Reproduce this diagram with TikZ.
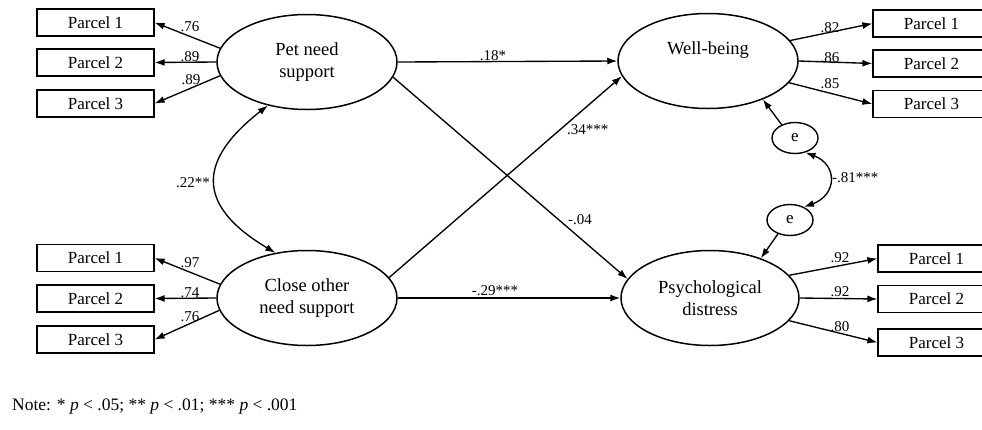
\documentclass[tikz,border=0pt]{standalone}
\usepackage{fontspec}
\setmainfont{Liberation Serif}
\usetikzlibrary{shapes.geometric,arrows.meta}
\tikzset{
  parcel/.style={draw, line width=1.2pt, minimum width=117pt, minimum height=27pt, inner sep=0pt, font=\fontsize{17}{20}\selectfont},
  latent/.style={ellipse, draw, line width=1.5pt, minimum width=180pt, minimum height=95pt, inner sep=0pt, align=center, font=\fontsize{18.5}{22}\selectfont},
  errvar/.style={ellipse, draw, line width=1.4pt, minimum width=46pt, minimum height=31pt, inner sep=0pt, font=\fontsize{17}{20}\selectfont},
  path/.style={-{Latex[length=10pt,width=7pt]}, line width=1.35pt},
  cov/.style={{Latex[length=10pt,width=7pt]}-{Latex[length=10pt,width=7pt]}, line width=1.35pt},
  coef/.style={inner sep=0pt, font=\fontsize{15}{17}\selectfont},
}
\begin{document}
\begin{tikzpicture}[x=1pt,y=-1pt]
\useasboundingbox (0,0) rectangle (982,429);
\clip (0,0) rectangle (982,429);
\fill[white] (0,0) rectangle (982,429);

% latent variables
\node[latent] (pet) at (307,62) {Pet need\\support};
\node[latent] (close) at (307,298) {Close other\\need support};
\node[latent] (wb) at (708,61) {Well-being\\[4pt]\mbox{}};
\node[latent, minimum width=178pt] (psy) at (710,298) {Psychological\\distress};

% error terms
\node[errvar] (e1) at (795,138) {e};
\node[errvar] (e2) at (790,220) {e};

% parcels
\node[parcel] (lp1) at (95.5,22.5) {Parcel 1};
\node[parcel] (lp2) at (95.5,62.5) {Parcel 2};
\node[parcel] (lp3) at (95.5,103.5) {Parcel 3};
\node[parcel] (lc1) at (95.5,258) {Parcel 1};
\node[parcel] (lc2) at (95.5,298.5) {Parcel 2};
\node[parcel] (lc3) at (95.5,339.5) {Parcel 3};
\node[parcel] (rw1) at (931.5,23.5) {Parcel 1};
\node[parcel] (rw2) at (931.5,63.5) {Parcel 2};
\node[parcel] (rw3) at (931.5,104) {Parcel 3};
\node[parcel] (rp1) at (936.5,258.5) {Parcel 1};
\node[parcel] (rp2) at (936.5,299) {Parcel 2};
\node[parcel] (rp3) at (936.5,342.5) {Parcel 3};

% loadings
\draw[path] (pet.171) -- (lp1.east);
\draw[path] (pet.west) -- (lp2.east);
\draw[path] (pet.189) -- (lp3.east);
\draw[path] (close.171) -- (lc1.east);
\draw[path] (close.west) -- (lc2.east);
\draw[path] (close.188) -- (lc3.east);
\draw[path] (wb.14) -- (rw1.west);
\draw[path] (wb.east) -- (rw2.west);
\draw[path] (wb.345) -- (rw3.west);
\draw[path] (psy.16) -- (rp1.west);
\draw[path] (psy.east) -- (rp2.west);
\draw[path] (psy.344) -- (rp3.west);

% structural paths
\draw[path] (pet.east) -- (wb.west);
\draw[path] (pet.350) -- (psy.167);
\draw[path] (close.14) -- (wb.190);
\draw[path] (close.east) -- (psy.west);
\draw[path] (e1.135) -- (wb.325);
\draw[path] (e2.229) -- (psy.38);

% covariances
\draw[cov] (pet.228) .. controls (198,160) and (195,205) .. (close.125);
\draw[cov] (e1.306) .. controls (838,165) and (837,195) .. (e2.43);

% coefficients
\node[coef] (c1) at (190,27) {.76};
\node[coef] (c2) at (190,57) {.89};
\node[coef] (c3) at (191,80) {.89};
\node[coef] (c4) at (190,263) {.97};
\node[coef] (c5) at (190,293) {.74};
\node[coef] (c6) at (190,317) {.76};
\node[coef] (c7) at (830,28) {.82};
\node[coef] (c8) at (830,58) {.86};
\node[coef] (c9) at (830,84) {.85};
\node[coef] (c10) at (840,258) {.92};
\node[coef] (c11) at (840,292) {.92};
\node[coef] (c12) at (840,327) {.80};
\node[coef] (c13) at (493,56) {.18*};
\node[coef, anchor=west] (c14) at (567,130) {.34***};
\node[coef] (c15) at (580,220) {-.04};
\node[coef] (c16) at (495,291) {-.29***};
\node[coef, anchor=east] (c17) at (210,183) {.22**};
\node[coef, anchor=west] (c18) at (832,178) {-.81***};

% note
\node[anchor=west, inner sep=0pt, font=\fontsize{17.5}{20}\selectfont] (note) at (12,407) {Note: * \textit{p} < .05; ** \textit{p} < .01; *** \textit{p} < .001};
\end{tikzpicture}
\end{document}
